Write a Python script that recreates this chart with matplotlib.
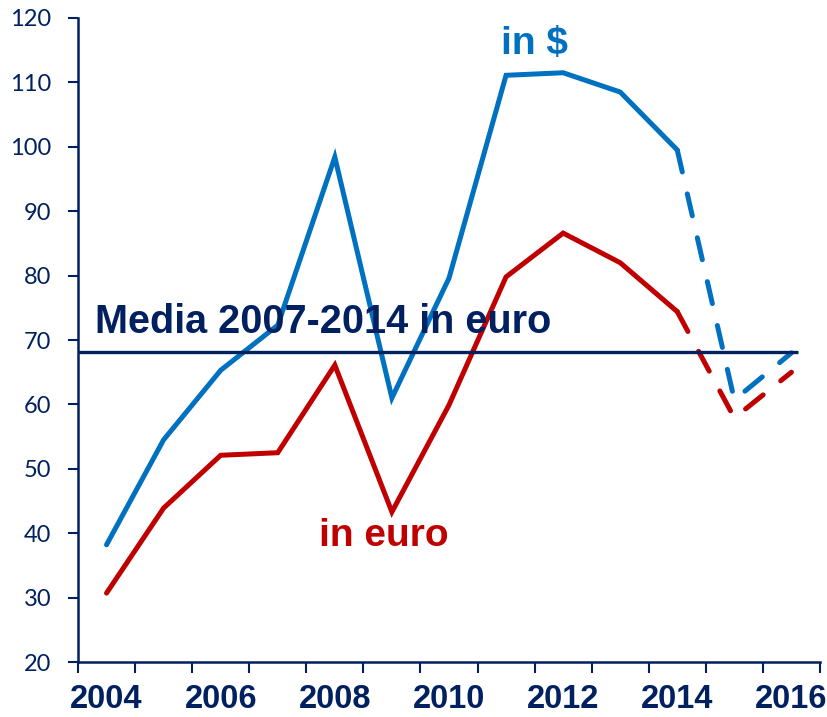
import matplotlib
matplotlib.use("Agg")
import matplotlib.pyplot as plt
import numpy as np

# --------------------------------------------------------------------------
# Data
# --------------------------------------------------------------------------
years = [2004, 2005, 2006, 2007, 2008, 2009, 2010, 2011, 2012, 2013, 2014, 2015, 2016]
price_usd = [38.2, 54.5, 65.3, 72.3, 98.4, 61.0, 79.6, 111.1, 111.5, 108.5, 99.5, 60.7, 68.0]
price_eur = [30.7, 43.9, 52.1, 52.5, 66.1, 43.3, 59.9, 79.8, 86.6, 82.0, 74.4, 57.9, 65.0]
last_actual = 2014
media_eur = 68.1
year_labels = [str(y) for y in years[::2]]

NAVY = "#002060"
BLUE = "#0070C0"
RED = "#C00000"
BOLD = dict(family=["Liberation Sans", "DejaVu Sans"], fontweight="bold")

fig = plt.figure(figsize=(8.27, 7.17), dpi=100)
ax = fig.add_axes([0.0943, 0.0767, 0.8972, 0.8982])

x = np.arange(len(years))
k = years.index(last_actual)

# solid = actual, dashed = forecast
ax.plot(x[:k + 1], price_usd[:k + 1], color=BLUE, lw=3.6, solid_capstyle="round", solid_joinstyle="miter")
ax.plot(x[k:], price_usd[k:], color=BLUE, lw=3.6, ls=(0, (4.5, 4.5)), dash_capstyle="round")
ax.plot(x[:k + 1], price_eur[:k + 1], color=RED, lw=3.6, solid_capstyle="round", solid_joinstyle="miter")
ax.plot(x[k:], price_eur[k:], color=RED, lw=3.6, ls=(0, (4.5, 4.5)), dash_capstyle="round")

ax.hlines(media_eur, -0.5, 12.12, color=NAVY, lw=2.4, zorder=3)

ax.text(-0.2, media_eur + 1.7, "Media 2007-2014 in euro", color=NAVY, fontsize=28.5,
        va="bottom", ha="left", **BOLD)
ax.text(7.5, 116.0, "in $", color=BLUE, fontsize=28, ha="center", va="center", **BOLD)
ax.text(4.85, 39.5, "in euro", color=RED, fontsize=28, ha="center", va="center", **BOLD)

# axes
ax.set_xlim(-0.5, len(years) - 0.5)
ax.set_ylim(20, 120)
ax.set_yticks(np.arange(20, 121, 10))
ax.set_xticks(x[::2])
ax.set_xticklabels(year_labels)
ax.set_xticks(np.arange(-0.5, len(years)), minor=True)

for side in ["top", "right"]:
    ax.spines[side].set_visible(False)
for side in ["left", "bottom"]:
    ax.spines[side].set_color(NAVY)
    ax.spines[side].set_linewidth(1.8)

ax.tick_params(axis="y", colors=NAVY, length=7, width=1.5, pad=12, labelsize=17)
ax.tick_params(axis="x", which="major", length=0, pad=16, labelsize=23.5, colors=NAVY)
ax.tick_params(axis="x", which="minor", length=8, width=1.5, color=NAVY, direction="out")
for lab in ax.get_yticklabels():
    lab.set_family(["Lato", "DejaVu Sans"])
for lab in ax.get_xticklabels():
    lab.set_family(["Liberation Sans", "DejaVu Sans"])
    lab.set_fontweight("bold")

fig.savefig("out.png", dpi=100)
